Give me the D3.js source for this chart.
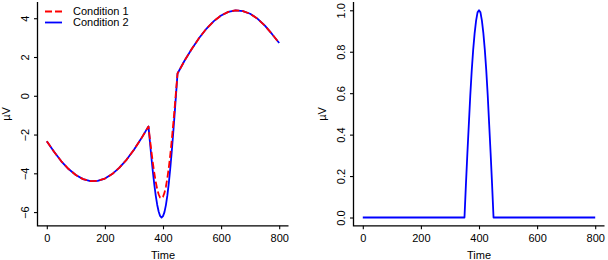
<!DOCTYPE html>
<html>
<head>
<meta charset="utf-8">
<script src="https://cdn.jsdelivr.net/npm/d3@7"></script>
<style>
  body { margin: 0; background: #fff; }
  svg { display: block; }
  text { font-family: "Liberation Sans", Arial, Helvetica, sans-serif; font-size: 11px; fill: #000; }
  .line { fill: none; stroke-width: 1.8; stroke-linejoin: round; }
</style>
</head>
<body>
<div class="container"></div>
<script>
// time points (ms)
var times = [0, 25, 50, 75, 100, 125, 150, 175, 200, 225, 250, 275, 300, 325, 350,
  355, 360, 365, 370, 375, 380, 385, 390, 395, 400, 405, 410, 415, 420, 425, 430, 435, 440, 445,
  450, 475, 500, 525, 550, 575, 600, 625, 650, 675, 700, 725, 750, 775, 800];

var cond1 = [-2.35, -2.89, -3.38, -3.78, -4.09, -4.30, -4.40, -4.39, -4.27, -4.04, -3.71, -3.29, -2.78, -2.21, -1.58,
  -2.23, -2.86, -3.45, -3.98, -4.44, -4.81, -5.08, -5.25, -5.29, -5.21, -5.01, -4.69, -4.25, -3.70, -3.05, -2.31, -1.50, -0.64, 0.26,
  1.15, 1.83, 2.44, 2.99, 3.47, 3.85, 4.14, 4.33, 4.41, 4.37, 4.23, 3.98, 3.63, 3.19, 2.72];

var cond2 = [-2.35, -2.89, -3.38, -3.78, -4.09, -4.30, -4.40, -4.39, -4.27, -4.04, -3.71, -3.29, -2.78, -2.21, -1.58,
  -2.38, -3.17, -3.90, -4.57, -5.15, -5.62, -5.97, -6.20, -6.28, -6.21, -6.00, -5.64, -5.14, -4.51, -3.75, -2.90, -1.96, -0.95, 0.10,
  1.15, 1.83, 2.44, 2.99, 3.47, 3.85, 4.14, 4.33, 4.41, 4.37, 4.23, 3.98, 3.63, 3.19, 2.72];

var effect = [0, 0, 0, 0, 0, 0, 0, 0, 0, 0, 0, 0, 0, 0, 0,
  0.16, 0.31, 0.45, 0.59, 0.71, 0.81, 0.89, 0.95, 0.99, 1.00, 0.99, 0.95, 0.89, 0.81, 0.71, 0.59, 0.45, 0.31, 0.16,
  0, 0, 0, 0, 0, 0, 0, 0, 0, 0, 0, 0, 0, 0, 0];

var xTicks = [0, 200, 400, 600, 800];
var yTicksLeft = [-6, -4, -2, 0, 2, 4];
var yTicksRight = [0, 0.2, 0.4, 0.6, 0.8, 1.0];
var legendLabels = ['Condition 1', 'Condition 2'];

const WIDTH = 608;
const HEIGHT = 260;

let translate = (x, y) => `translate(${x},${y})`;

// R style 4% padding
let pad = ext => {
  let d = (ext[1] - ext[0]) * 0.04;
  return [ext[0] - d, ext[1] + d];
};

let svg = d3.select('.container').append('svg')
  .attr('width', WIDTH)
  .attr('height', HEIGHT);

let drawPanel = function (left, series, yTicks, fmt) {
  let top = 2, bottom = 225.8, right = left + 251;
  let all = [].concat(...series.map(s => s.values));

  let xScale = d3.scaleLinear().domain(pad(d3.extent(times))).range([left, right]);
  let yScale = d3.scaleLinear().domain(pad(d3.extent(all))).range([bottom, top]);

  let g = svg.append('g');

  // L-shaped box
  g.append('path')
    .attr('d', `M${left},${top}V${bottom}H${right}`)
    .attr('fill', 'none')
    .attr('stroke', '#000')
    .attr('stroke-width', 1.3);

  let xAxis = d3.axisBottom(xScale).tickValues(xTicks).tickSize(3.5).tickPadding(5).tickFormat(d3.format('d'));
  let ax = g.append('g').attr('transform', translate(0, bottom)).call(xAxis);
  ax.select('.domain').remove();
  ax.selectAll('line').attr('stroke-width', 1.1);
  ax.selectAll('text').attr('font-size', 11).attr('font-family', null);

  let yAxis = d3.axisLeft(yScale).tickValues(yTicks).tickSize(3.5).tickFormat(fmt);
  let ay = g.append('g').attr('transform', translate(left, 0)).call(yAxis);
  ay.select('.domain').remove();
  ay.selectAll('line').attr('stroke-width', 1.1);
  ay.selectAll('text')
    .attr('font-size', 11).attr('font-family', null)
    .attr('x', null).attr('dy', null)
    .attr('text-anchor', 'middle')
    .attr('transform', `translate(${-12},0) rotate(-90)`)
    .attr('dy', '0.35em');

  g.append('text')
    .attr('x', (xScale(0) + xScale(800)) / 2)
    .attr('y', 259)
    .attr('text-anchor', 'middle')
    .text('Time');

  g.append('text')
    .attr('transform', translate(left - 28, (top + bottom) / 2) + ' rotate(-90)')
    .attr('text-anchor', 'middle')
    .text('\u00b5V');

  series.forEach(s => {
    let line = d3.line()
      .x((d, i) => xScale(times[i]))
      .y(d => yScale(d));
    g.append('path')
      .attr('d', line(s.values))
      .classed('line', true)
      .attr('stroke', s.color)
      .attr('stroke-dasharray', s.dash);
  });

  return g;
};

let leftPanel = drawPanel(37.5, [
  {values: cond2, color: '#0000ff', dash: null},
  {values: cond1, color: '#ff0000', dash: '7,3'}
], yTicksLeft, d3.format('d'));

drawPanel(353.5, [
  {values: effect, color: '#0000ff', dash: null}
], yTicksRight, d3.format('.1f'));

// legend
let legend = leftPanel.append('g');
let legendStyle = [{color: '#ff0000', dash: '7,3'}, {color: '#0000ff', dash: null}];
legendLabels.forEach((lab, i) => {
  let y = 11.5 + i * 11;
  legend.append('line')
    .attr('x1', 45).attr('x2', 62)
    .attr('y1', y).attr('y2', y)
    .attr('stroke', legendStyle[i].color)
    .attr('stroke-width', 1.8)
    .attr('stroke-dasharray', legendStyle[i].dash);
  legend.append('text')
    .attr('x', 73).attr('y', y)
    .attr('dy', '0.35em')
    .attr('font-size', 10)
    .text(lab);
});
</script>
</body>
</html>
